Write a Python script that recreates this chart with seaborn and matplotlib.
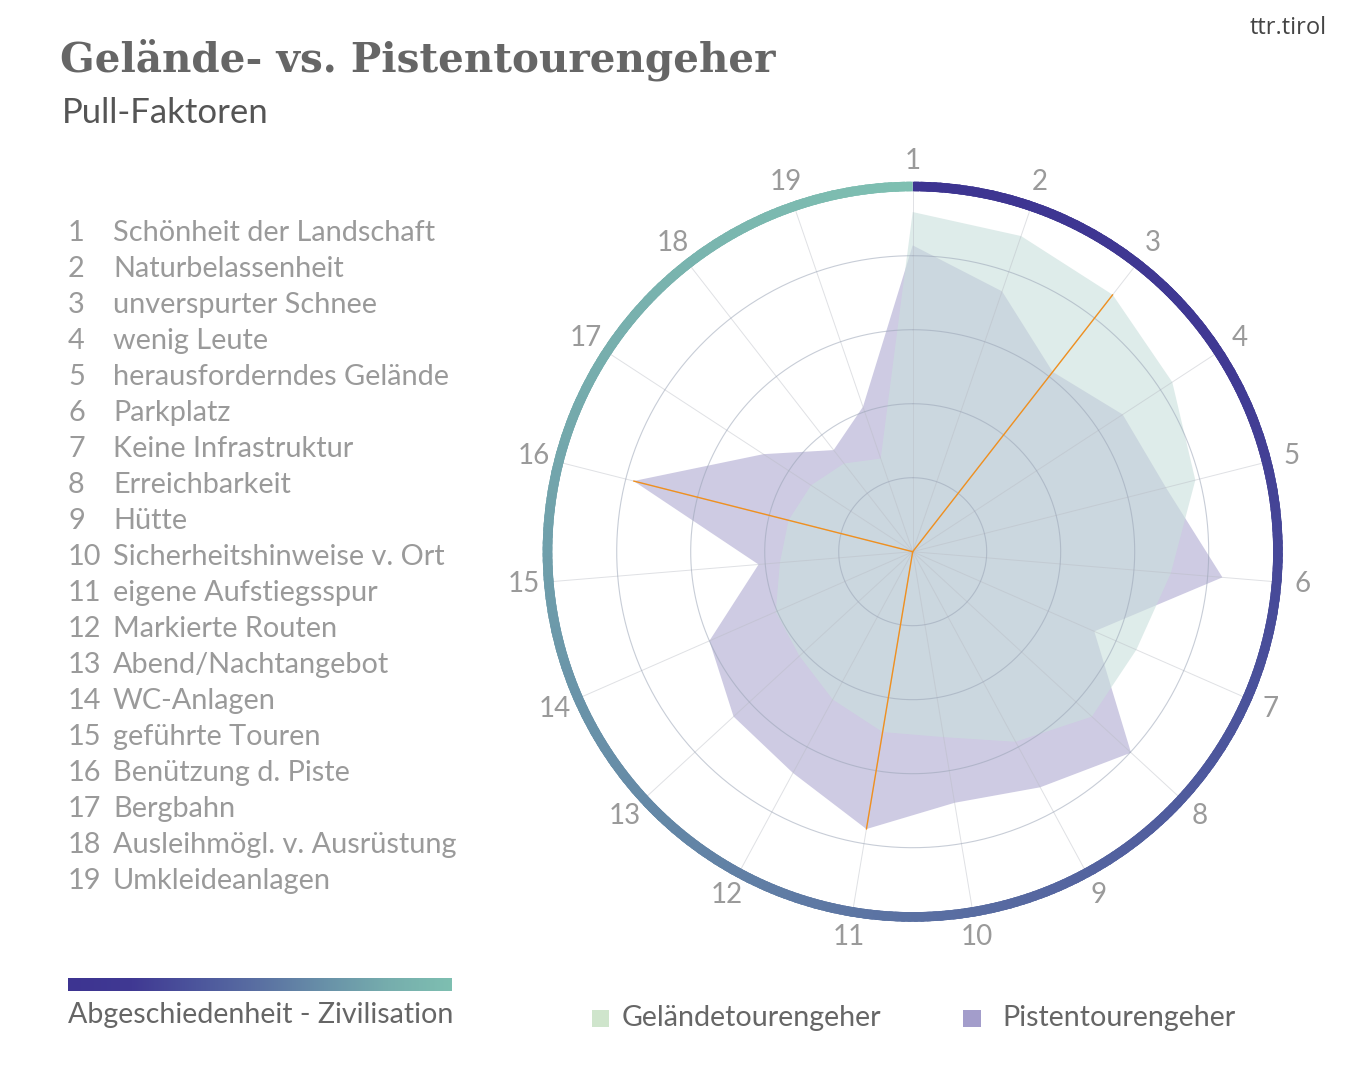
import numpy as np
import matplotlib
matplotlib.use("Agg")
import matplotlib.pyplot as plt
from matplotlib.patches import Rectangle
from matplotlib.collections import LineCollection
import seaborn as sns

# ---------------- data ----------------
categories = ["Schönheit der Landschaft", "Naturbelassenheit", "unverspurter Schnee",
              "wenig Leute", "herausforderndes Gelände", "Parkplatz", "Keine Infrastruktur",
              "Erreichbarkeit", "Hütte", "Sicherheitshinweise v. Ort", "eigene Aufstiegsspur",
              "Markierte Routen", "Abend/Nachtangebot", "WC-Anlagen", "geführte Touren",
              "Benützung d. Piste", "Bergbahn", "Ausleihmögl. v. Ausrüstung", "Umkleideanlagen"]
axis_labels = [str(i) for i in range(1, 20)]
gelaende = [4.59, 4.51, 4.40, 4.19, 3.94, 3.50, 3.30, 3.29, 2.92, 2.54,
            2.47, 2.27, 2.08, 2.02, 1.80, 1.73, 1.64, 1.51, 1.33]
pisten = [4.14, 3.72, 3.08, 3.39, 3.53, 4.20, 2.68, 4.01, 3.62, 3.44,
          3.80, 3.40, 3.29, 3.00, 2.09, 3.89, 2.41, 1.74, 2.07]
highlight_gelaende = [3]        # axis numbers highlighted for Geländetourengeher
highlight_pisten = [16, 11]     # axis numbers highlighted for Pistentourengeher
grid_levels = [1, 2, 3, 4]
series_names = ["Geländetourengeher", "Pistentourengeher"]

# ---------------- style ----------------
sns.set_theme(style="white")
plt.rcParams["font.family"] = ["Lato", "DejaVu Sans"]

W, H = 1350, 1081
fig = plt.figure(figsize=(W / 100, H / 100), dpi=100)
fig.patch.set_facecolor("white")

ring_cmap = sns.blend_palette(["#3d3491", "#403993", "#4c559c", "#5a70a2",
                               "#6890a8", "#76adad", "#7ebfb1"], as_cmap=True)

# polar axes: centre (912.7, 551.7) px, r=5 -> 370 px
cx, cy, R = 912.7, 551.7, 370.0
ax = fig.add_axes([(cx - R) / W, (H - cy - R) / H, 2 * R / W, 2 * R / H], projection="polar")
ax.set_theta_zero_location("N")
ax.set_theta_direction(-1)
ax.set_ylim(0, 5)
ax.grid(False)
ax.set_xticks([])
ax.set_yticks([])
ax.spines["polar"].set_visible(False)
ax.set_facecolor("none")

n = len(categories)
theta = np.arange(n) * 2 * np.pi / n
th_c = np.append(theta, theta[0])

# fills
ax.fill(th_c, np.append(pisten, pisten[0]), color="#a39dcb", alpha=0.53, lw=0, zorder=2)
ax.fill(th_c, np.append(gelaende, gelaende[0]), color="#cae0dd", alpha=0.61, lw=0, zorder=3)

ring_r = 4.94
# spokes
for t in theta:
    ax.plot([t, t], [0, ring_r], color="#b9bcc4", lw=0.7, alpha=0.45, zorder=4)
# grid circles
tt = np.linspace(0, 2 * np.pi, 400)
for lv in grid_levels:
    ax.plot(tt, np.full_like(tt, lv), color="#9aa4b6", lw=0.8, alpha=0.55, zorder=4)

# highlight lines
for k in highlight_gelaende:
    ax.plot([theta[k - 1], theta[k - 1]], [0, gelaende[k - 1]], color="#f0901f", lw=1.0, zorder=6)
for k in highlight_pisten:
    ax.plot([theta[k - 1], theta[k - 1]], [0, pisten[k - 1]], color="#f0901f", lw=1.0, zorder=6)

# gradient ring
m = 360
ts = np.linspace(0, 2 * np.pi, m + 1)
segs = [[(ts[i], ring_r), (ts[i + 1], ring_r)] for i in range(m)]
cols = [ring_cmap(i / (m - 1)) for i in range(m)]
lc_mid = LineCollection(segs[1:-1], colors=cols[1:-1], linewidths=7.4,
                        capstyle="projecting", zorder=7)
ax.add_collection(lc_mid)
lc_end = LineCollection([segs[0], segs[-1]], colors=[cols[0], cols[-1]], linewidths=7.4,
                        capstyle="butt", zorder=7.5)
ax.add_collection(lc_end)

# axis number labels
for t, lab in zip(theta, axis_labels):
    ax.text(t, 5.28, lab, ha="center", va="center", fontsize=20, color="#9a9a9a",
            clip_on=False, zorder=8)

# ---------------- texts ----------------
fig.text(60 / W, 1 - 60 / H, "Gelände- vs. Pistentourengeher", fontsize=29.2, fontweight="bold",
         family="DejaVu Serif", color="#666666", ha="left", va="center")
fig.text(62 / W, 1 - 113 / H, "Pull-Faktoren", fontsize=25, color="#555555",
         ha="left", va="center")
fig.text(1327 / W, 1 - 28 / H, "ttr.tirol", fontsize=17, family="Open Sans", color="#444444",
         ha="right", va="center")

for i, name in enumerate(categories):
    y = 1 - (233 + 36 * i) / H
    fig.text(68 / W, y, axis_labels[i], fontsize=20.8, color="#9a9a9a",
             ha="left", va="center")
    fig.text(113 / W, y, name, fontsize=20.8, color="#9a9a9a",
             ha="left", va="center")

# gradient bar
bax = fig.add_axes([68 / W, 1 - 991 / H, 384 / W, 13 / H])
bax.imshow(np.linspace(0, 1, 256)[None, :], cmap=ring_cmap, aspect="auto")
bax.set_axis_off()
fig.text(68 / W, 1 - 1015 / H, "Abgeschiedenheit - Zivilisation", fontsize=20.6, color="#666666",
         ha="left", va="center")

# legend
fig.add_artist(Rectangle((592 / W, 1 - 1027 / H), 17 / W, 17 / H, transform=fig.transFigure,
                         facecolor="#cfe5cc", edgecolor="none"))
fig.text(622 / W, 1 - 1018 / H, series_names[0], fontsize=20.6, color="#666666",
         ha="left", va="center")
fig.add_artist(Rectangle((963 / W, 1 - 1027 / H), 18 / W, 17 / H, transform=fig.transFigure,
                         facecolor="#a39dcb", edgecolor="none"))
fig.text(1002 / W, 1 - 1018 / H, series_names[1], fontsize=20.6, color="#666666",
         ha="left", va="center")

fig.savefig("out.png", dpi=100, facecolor="white")
